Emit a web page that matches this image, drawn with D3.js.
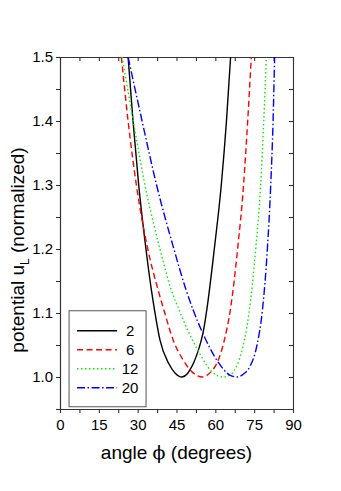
<!DOCTYPE html>
<html lang="en">
<head>
    <meta charset="utf-8">
    <title>potential vs angle</title>
    <script src="https://cdn.jsdelivr.net/npm/d3@7"></script>
    <style>
        body { margin: 0; background: #fff; }
        text { font-family: "Liberation Sans", Arial, sans-serif; fill: #000; }
        .axis path, .axis line { stroke: #333; stroke-width: 1.1; }
    </style>
</head>
<body>
<div id="chart"></div>
<script>
    // series labels (legend)
    const seriesNames = ["2", "6", "12", "20"];

    // curve readings: angle (deg) and normalized potential
    const phi2 = [26.3, 28.2, 30.4, 33.2, 35.3, 36.5, 38.6, 42.0, 44.5, 47.1, 49.2, 50.0, 51.6, 53.3, 55.2, 56.7, 59.6, 62.3, 64.3, 65.9];
    const u2   = [1.5, 1.4, 1.3, 1.2, 1.136, 1.105, 1.058, 1.021, 1.006, 1.0, 1.005, 1.01, 1.022, 1.04, 1.068, 1.105, 1.2, 1.3, 1.4, 1.5];

    const phi6 = [23.7, 26.3, 29.5, 33.9, 37.9, 40.1, 43.7, 47.8, 51.0, 55.0, 58.5, 61.0, 63.5, 65.8, 68.6, 70.9, 72.5, 73.9];
    const u6   = [1.5, 1.4, 1.3, 1.2, 1.136, 1.105, 1.058, 1.025, 1.008, 1.0, 1.009, 1.025, 1.058, 1.105, 1.2, 1.3, 1.4, 1.5];

    const phi12 = [24.0, 28.3, 32.8, 38.6, 43.0, 46.0, 49.7, 53.5, 58.5, 63.0, 66.0, 68.0, 70.5, 73.0, 75.6, 77.5, 78.7, 79.7];
    const u12   = [1.5, 1.4, 1.3, 1.2, 1.136, 1.105, 1.07, 1.04, 1.009, 1.0, 1.004, 1.015, 1.045, 1.1, 1.2, 1.3, 1.4, 1.5];

    const phi20 = [26.3, 31.7, 37.3, 44.0, 48.7, 51.4, 55.2, 60.8, 65.6, 68.5, 71.0, 73.3, 76.1, 78.2, 80.1, 81.4, 82.3, 82.9];
    const u20   = [1.5, 1.4, 1.3, 1.2, 1.136, 1.105, 1.068, 1.025, 1.003, 1.0, 1.005, 1.016, 1.05, 1.105, 1.2, 1.3, 1.4, 1.5];

    // axis ticks
    const xTicks = [0, 15, 30, 45, 60, 75, 90];
    const xMinor = [7.5, 22.5, 37.5, 52.5, 67.5, 82.5];
    const yTicks = [1.0, 1.1, 1.2, 1.3, 1.4, 1.5];
    const yMinor = [0.95, 1.05, 1.15, 1.25, 1.35, 1.45];

    const series = [
        {name: seriesNames[0], phi: phi2,  u: u2,  color: "#000000", dash: null},
        {name: seriesNames[1], phi: phi6,  u: u6,  color: "#ff0000", dash: "6,3.5"},
        {name: seriesNames[2], phi: phi12, u: u12, color: "#00ee00", dash: "1.5,2.5"},
        {name: seriesNames[3], phi: phi20, u: u20, color: "#0000ff", dash: "8,2.5,1.5,2.5"}
    ];

    const W = 341, H = 491;
    const margin = {top: 57, right: 48, bottom: 82, left: 60};
    const width = W - margin.left - margin.right;
    const height = H - margin.top - margin.bottom;

    const svg = d3.select("#chart")
        .append("svg")
            .attr("width", W)
            .attr("height", H)
        .append("g")
            .attr("transform", "translate(" + margin.left + "," + margin.top + ")");

    const x = d3.scaleLinear().domain([0, 90]).range([0, width]);
    const y = d3.scaleLinear().domain([0.95, 1.5]).range([height, 0]);

    // bottom axis (outward ticks)
    svg.append("g")
        .attr("class", "axis")
        .attr("transform", "translate(0," + height + ")")
        .call(d3.axisBottom(x).tickValues(xTicks).tickSize(4).tickSizeOuter(0).tickPadding(6).tickFormat(d3.format("d")))
        .call(g => g.selectAll("text").style("font-size", "15px"));
    svg.append("g")
        .attr("class", "axis")
        .attr("transform", "translate(0," + height + ")")
        .call(d3.axisBottom(x).tickValues(xMinor).tickSize(4).tickSizeOuter(0).tickFormat(""));

    // left axis (outward ticks)
    svg.append("g")
        .attr("class", "axis")
        .call(d3.axisLeft(y).tickValues(yTicks).tickSize(4).tickSizeOuter(0).tickPadding(3).tickFormat(d3.format(".1f")))
        .call(g => g.selectAll("text").style("font-size", "15px"));
    svg.append("g")
        .attr("class", "axis")
        .call(d3.axisLeft(y).tickValues(yMinor).tickSize(4).tickSizeOuter(0).tickFormat(""));

    // top and right mirror axes (inward ticks)
    svg.append("g")
        .attr("class", "axis")
        .call(d3.axisBottom(x).tickValues(xTicks.concat(xMinor)).tickSize(4).tickSizeOuter(0).tickFormat(""));
    svg.append("g")
        .attr("class", "axis")
        .attr("transform", "translate(" + width + ",0)")
        .call(d3.axisLeft(y).tickValues(yTicks.concat(yMinor)).tickSize(4).tickSizeOuter(0).tickFormat(""));

    // clip to plot area
    svg.append("clipPath")
        .attr("id", "clip")
        .append("rect")
            .attr("width", width)
            .attr("height", height);

    const line = d3.line()
        .x(d => x(d[0]))
        .y(d => y(d[1]))
        .curve(d3.curveMonotoneX);

    svg.append("g")
        .attr("clip-path", "url(#clip)")
        .selectAll("path")
        .data(series)
        .enter()
        .append("path")
            .attr("d", s => line(d3.zip(s.phi, s.u)))
            .attr("fill", "none")
            .attr("stroke", s => s.color)
            .attr("stroke-width", 1.4)
            .attr("stroke-dasharray", s => s.dash);

    // legend
    const legend = svg.append("g")
        .attr("transform", "translate(" + x(3.5) + "," + y(1.1035) + ")");

    legend.append("rect")
        .attr("width", 77)
        .attr("height", 96)
        .attr("fill", "#fff")
        .attr("stroke", "#555")
        .attr("stroke-width", 1);

    const items = legend.selectAll(".legend-item")
        .data(series)
        .enter()
        .append("g")
        .attr("class", "legend-item")
        .attr("transform", (d, i) => "translate(0," + (20 + i * 19) + ")");

    items.append("line")
        .attr("x1", 8)
        .attr("x2", 48)
        .attr("stroke", d => d.color)
        .attr("stroke-width", 1.4)
        .attr("stroke-dasharray", d => d.dash);

    items.append("text")
        .attr("x", 61)
        .attr("dy", "0.36em")
        .attr("text-anchor", "middle")
        .style("font-size", "15px")
        .text(d => d.name);

    // x axis title
    const xt = svg.append("text")
        .attr("x", width / 2)
        .attr("y", height + 50)
        .attr("text-anchor", "middle")
        .style("font-size", "19px");
    xt.append("tspan").text("angle ");
    xt.append("tspan").style("font-family", "'DejaVu Serif', serif").text("\u03d5");
    xt.append("tspan").text(" (degrees)");

    // y axis title
    const yt = svg.append("text")
        .attr("transform", "rotate(-90)")
        .attr("x", -(250 - margin.top))
        .attr("y", -36)
        .attr("text-anchor", "middle")
        .style("font-size", "19px");
    yt.append("tspan").text("potential u");
    yt.append("tspan").attr("dy", 5).style("font-size", "12px").text("L");
    yt.append("tspan").attr("dy", -5).text(" (normalized)");
</script>
</body>
</html>
